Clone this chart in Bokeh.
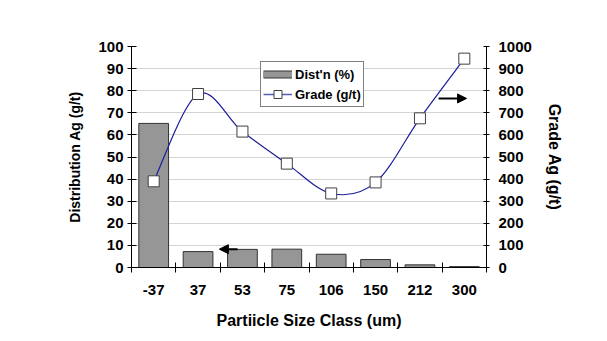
import math
from bokeh.plotting import figure
from bokeh.models import (Range1d, LinearAxis, FixedTicker, ColumnDataSource,
                          Legend, LegendItem, Arrow, NormalHead)
from bokeh.embed import file_html
from bokeh.resources import INLINE

# ---- data ----
size_classes = ["-37", "37", "53", "75", "106", "150", "212", "300"]
distribution = [65.2, 7.2, 8.2, 8.3, 6.0, 3.6, 1.2, 0.4]      # %
grade = [390, 785, 615, 470, 335, 385, 675, 945]               # g/t
left_ticks = [0, 10, 20, 30, 40, 50, 60, 70, 80, 90, 100]
right_ticks = [0, 100, 200, 300, 400, 500, 600, 700, 800, 900, 1000]

FONT = "Liberation Sans"
LINE_BLUE = "#1c1c9c"
n = len(size_classes)
xc = [i + 0.5 for i in range(n)]

p = figure(width=607, height=341, output_backend="svg", toolbar_location=None,
           x_range=Range1d(0, n), y_range=Range1d(0, 100),
           min_border_left=131, min_border_right=121, min_border_top=46,
           min_border_bottom=74, outline_line_color=None,
           background_fill_color="white", border_fill_color="white",
           x_axis_location=None, y_axis_location=None)
p.extra_y_ranges = {"grade": Range1d(0, 1000)}

def style_axis(ax, title_size="16px"):
    ax.axis_line_color = "black"
    ax.axis_line_width = 1
    ax.major_tick_line_color = "black"
    ax.major_label_text_font = FONT
    ax.major_label_text_font_style = "bold"
    ax.major_label_text_font_size = "15px"
    ax.major_label_text_color = "black"
    ax.axis_label_text_font = FONT
    ax.axis_label_text_font_style = "bold"
    ax.axis_label_text_font_size = title_size
    ax.axis_label_text_color = "black"
    ax.minor_tick_line_color = None

# bottom axis: labels at category centres, tick marks at category boundaries
xax = LinearAxis(ticker=FixedTicker(ticks=xc, minor_ticks=list(range(n + 1))),
                 axis_label="Partiicle Size Class (um)")
style_axis(xax)
xax.major_label_overrides = {x: s for x, s in zip(xc, size_classes)}
xax.major_tick_line_color = None
xax.major_tick_out = 5
xax.major_tick_in = 0
xax.minor_tick_line_color = "black"
xax.minor_tick_in = 5
xax.minor_tick_out = 5
xax.major_label_standoff = 12
xax.axis_label_standoff = 14
p.add_layout(xax, "below")

# left axis
lax = LinearAxis(ticker=FixedTicker(ticks=left_ticks), axis_label="Distribution Ag (g/t)")
style_axis(lax, "14px")
lax.major_tick_in = 5
lax.major_tick_out = 4
lax.major_label_standoff = 4
lax.axis_label_standoff = 12
p.add_layout(lax, "left")

# right axis, title reading bottom-to-top as in the reference
rax = LinearAxis(ticker=FixedTicker(ticks=right_ticks), y_range_name="grade",
                 axis_label="Grade Ag (g/t)")
style_axis(rax)
rax.major_tick_in = 3
rax.major_tick_out = 3
rax.major_label_standoff = 9
rax.axis_label_standoff = 11
rax.axis_label_orientation = "vertical"
p.add_layout(rax, "right")

p.xgrid.visible = False
p.ygrid.ticker = FixedTicker(ticks=left_ticks)
p.ygrid.grid_line_color = "#d4d4d4"
p.ygrid.grid_line_width = 1

# bars
bar_src = ColumnDataSource(dict(x=xc, top=distribution))
bars = p.vbar(x="x", top="top", width=0.67, source=bar_src,
              fill_color="#969696", line_color="#333333", line_width=1)

# smoothed grade line (Catmull-Rom style cubic Bezier through the data points)
x0, y0, x1, y1, cx0, cy0, cx1, cy1 = [], [], [], [], [], [], [], []
for i in range(n - 1):
    pa = (xc[max(i - 1, 0)], grade[max(i - 1, 0)])
    pb = (xc[i], grade[i])
    pc = (xc[i + 1], grade[i + 1])
    pd = (xc[min(i + 2, n - 1)], grade[min(i + 2, n - 1)])
    x0.append(pb[0]); y0.append(pb[1]); x1.append(pc[0]); y1.append(pc[1])
    cx0.append(pb[0] + (pc[0] - pa[0]) / 6); cy0.append(pb[1] + (pc[1] - pa[1]) / 6)
    cx1.append(pc[0] - (pd[0] - pb[0]) / 6); cy1.append(pc[1] - (pd[1] - pb[1]) / 6)
bz_src = ColumnDataSource(dict(x0=x0, y0=y0, x1=x1, y1=y1,
                               cx0=cx0, cy0=cy0, cx1=cx1, cy1=cy1))
p.bezier(x0="x0", y0="y0", x1="x1", y1="y1", cx0="cx0", cy0="cy0",
         cx1="cx1", cy1="cy1", source=bz_src, y_range_name="grade",
         line_color=LINE_BLUE, line_width=1.2)

g_src = ColumnDataSource(dict(x=xc, y=grade))
pts = p.scatter(x="x", y="y", source=g_src, y_range_name="grade", marker="square",
                size=11, fill_color="white", line_color="#404040", line_width=1)

# legend-only (hidden) renderers
leg_line = p.line(x="x", y="y", source=g_src, y_range_name="grade",
                  line_color="#5a5ab8", line_width=1.5, visible=False)
leg_pts = p.scatter(x="x", y="y", source=g_src, y_range_name="grade", marker="square",
                    size=11, fill_color="white", line_color="#404040", line_width=1,
                    visible=False)
leg_bar_edge = p.line(x="x", y="top", source=bar_src, line_color="#333333",
                      line_width=8, line_cap="butt", visible=False)
leg_bar_fill = p.line(x="x", y="top", source=bar_src, line_color="#969696",
                      line_width=6, line_cap="butt", visible=False)

# arrows indicating which axis each series uses
p.add_layout(Arrow(end=NormalHead(size=9, fill_color="black", line_color="black"),
                   x_start=2.39, y_start=8.3, x_end=1.98, y_end=8.3,
                   line_color="black", line_width=2))
p.add_layout(Arrow(end=NormalHead(size=9, fill_color="black", line_color="black"),
                   x_start=6.92, y_start=76.5, x_end=7.55, y_end=76.5,
                   line_color="black", line_width=2))

legend = Legend(items=[LegendItem(label="Dist'n (%)", renderers=[leg_bar_edge, leg_bar_fill]),
                       LegendItem(label="Grade (g/t)", renderers=[leg_line, leg_pts])],
                location=(129, 160), orientation="vertical",
                border_line_color="black", border_line_width=1,
                background_fill_color="white", background_fill_alpha=1,
                label_text_font=FONT, label_text_font_style="bold",
                label_text_font_size="13px", label_text_color="black",
                glyph_width=29, glyph_height=20, spacing=0, padding=2,
                margin=0, label_standoff=3, label_height=20)
p.add_layout(legend, "center")

open("out.html", "w").write(file_html(p, INLINE))
